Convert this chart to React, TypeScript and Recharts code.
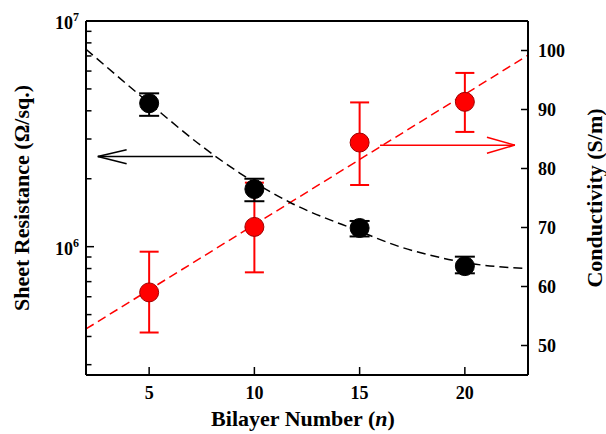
import {
  ComposedChart,
  Line,
  Scatter,
  ErrorBar,
  XAxis,
  YAxis,
  ReferenceLine,
} from "recharts";

// measured points
const bilayers = [5, 10, 15, 20];
const sheetResistance = [4.32e6, 1.8e6, 1.21e6, 8.2e5];
const sheetResErrLow = [5.2e5, 2.1e5, 1.0e5, 5.8e4];
const sheetResErrHigh = [4.6e5, 2.0e5, 0.9e5, 8.3e4];
const conductivity = [59, 70.1, 84.4, 91.3];
const condErrLow = [6.8, 7.7, 7.2, 5.1];
const condErrHigh = [6.9, 7.5, 6.8, 4.9];

// fitted curves
const resFitN = [2, 5, 7.5, 9.3, 11.7, 15, 16.9, 18.3, 20, 23];
const resFitValues = [7.5e6, 4.33e6, 2.79e6, 2.12e6, 1.57e6, 1.17e6, 1.0e6, 9.2e5, 8.5e5, 8.0e5];
const condFitN = [2, 23];
const condFitValues = [52.8, 99.2];

// arrows: shaft start, tip, and the two head arms
const blackArrowN = [8.03, 2.56, 3.93];
const blackArrowY = [2.51e6, 2.69e6, 2.33e6];
const redArrowN = [15.97, 22.38, 21.05];
const redArrowY = [83.96, 85.3, 82.6];

const xTicks = [5, 10, 15, 20];
const rightTicks = [50, 60, 70, 80, 90, 100];
const leftTicks = [
  3e5, 4e5, 5e5, 6e5, 7e5, 8e5, 9e5, 1e6,
  2e6, 3e6, 4e6, 5e6, 6e6, 7e6, 8e6, 9e6, 1e7,
];
const leftMajor = [1e6, 1e7];

const resData = bilayers.map((n, i) => ({
  x: n,
  y: sheetResistance[i],
  err: [sheetResErrLow[i], sheetResErrHigh[i]],
}));
const condData = bilayers.map((n, i) => ({
  x: n,
  y: conductivity[i],
  err: [condErrLow[i], condErrHigh[i]],
}));
const resFit = resFitN.map((n, i) => ({ x: n, y: resFitValues[i] }));
const condFit = condFitN.map((n, i) => ({ x: n, y: condFitValues[i] }));

const FONT = '"Liberation Serif", "Times New Roman", serif';

const LeftTick = (props: any) => {
  const { x, y, payload } = props;
  const v = payload.value;
  const major = leftMajor.includes(v);
  return (
    <g>
      <line x1={x} x2={x + (major ? 8 : 5.5)} y1={y} y2={y} stroke="#000" strokeWidth={1.5} />
      {major && (
        <text x={x - 7} y={y + 8} textAnchor="end" fontFamily={FONT} fontWeight="bold" fontSize={18} fill="#000">
          10
          <tspan dy={-8} fontSize={12}>{Math.round(Math.log10(v))}</tspan>
        </text>
      )}
    </g>
  );
};

const RightTick = (props: any) => {
  const { x, y, payload } = props;
  return (
    <g>
      <line x1={x} x2={x - 7} y1={y} y2={y} stroke="#000" strokeWidth={1.5} />
      <text x={x + 10} y={y + 6} textAnchor="start" fontFamily={FONT} fontWeight="bold" fontSize={18} fill="#000">
        {payload.value}
      </text>
    </g>
  );
};

const BottomTick = (props: any) => {
  const { x, y, payload } = props;
  return (
    <g>
      <line x1={x} x2={x} y1={y} y2={y - 8} stroke="#000" strokeWidth={1.5} />
      <text x={x} y={y + 24} textAnchor="middle" fontFamily={FONT} fontWeight="bold" fontSize={18} fill="#000">
        {payload.value}
      </text>
    </g>
  );
};

const Dot = ({ cx, cy, fill, stroke }: any) => (
  <circle cx={cx} cy={cy} r={9.5} fill={fill} stroke={stroke} strokeWidth={1} />
);

export default function App() {
  return (
    <div style={{ position: "absolute", left: 0, top: 0, width: 606, height: 434, background: "#fff" }}>
      <ComposedChart width={606} height={434} margin={{ top: 21, right: 0, bottom: 0, left: 0 }}>
        <XAxis
          dataKey="x"
          type="number"
          domain={[2, 23]}
          ticks={xTicks}
          interval={0}
          allowDataOverflow
          height={59}
          tickSize={0}
          tickMargin={0}
          tickLine={false}
          tick={<BottomTick />}
          axisLine={{ stroke: "#000", strokeWidth: 2 }}
          label={(p: any) => {
            const vb = p.viewBox;
            return (
              <text x={vb.x + vb.width / 2 - 4} y={vb.y + 51} textAnchor="middle" fontFamily={FONT} fontWeight="bold" fontSize={22} fill="#000">
                Bilayer Number (<tspan fontStyle="italic">n</tspan>)
              </text>
            );
          }}
        />
        <YAxis
          yAxisId="left"
          type="number"
          scale="log"
          domain={[2.7e5, 1e7]}
          ticks={leftTicks}
          interval={0}
          allowDataOverflow
          width={86}
          tickSize={0}
          tickMargin={0}
          tickLine={false}
          tick={<LeftTick />}
          axisLine={{ stroke: "#000", strokeWidth: 2 }}
          label={(p: any) => {
            const vb = p.viewBox;
            const cx = 21;
            const cy = vb.y + vb.height / 2;
            return (
              <text x={cx} y={cy} transform={`rotate(-90, ${cx}, ${cy})`} textAnchor="middle" dominantBaseline="central" fontFamily={FONT} fontWeight="bold" fontSize={22} fill="#000">
                Sheet Resistance (Ω/sq.)
              </text>
            );
          }}
        />
        <YAxis
          yAxisId="right"
          orientation="right"
          type="number"
          domain={[45, 105]}
          ticks={rightTicks}
          interval={0}
          allowDataOverflow
          width={78}
          tickSize={0}
          tickMargin={0}
          tickLine={false}
          tick={<RightTick />}
          axisLine={{ stroke: "#000", strokeWidth: 2 }}
          label={(p: any) => {
            const vb = p.viewBox;
            const cx = 594;
            const cy = vb.y + vb.height / 2;
            return (
              <text x={cx} y={cy} transform={`rotate(-90, ${cx}, ${cy})`} textAnchor="middle" dominantBaseline="central" fontFamily={FONT} fontWeight="bold" fontSize={22} fill="#000">
                Conductivity (S/m)
              </text>
            );
          }}
        />
        <ReferenceLine yAxisId="right" y={105} stroke="#000" strokeWidth={2} ifOverflow="visible" />

        <Line
          data={condFit}
          dataKey="y"
          yAxisId="right"
          type="linear"
          stroke="#ff0000"
          strokeWidth={1.5}
          strokeDasharray="9 5"
          dot={false}
          isAnimationActive={false}
        />
        <Line
          data={resFit}
          dataKey="y"
          yAxisId="left"
          type="monotone"
          stroke="#000"
          strokeWidth={1.5}
          strokeDasharray="9 5"
          dot={false}
          isAnimationActive={false}
        />

        {/* arrows */}
        <ReferenceLine yAxisId="left" segment={[{ x: blackArrowN[0], y: blackArrowY[0] }, { x: blackArrowN[1], y: blackArrowY[0] }]} stroke="#000" strokeWidth={1.5} />
        <ReferenceLine yAxisId="left" segment={[{ x: blackArrowN[1], y: blackArrowY[0] }, { x: blackArrowN[2], y: blackArrowY[1] }]} stroke="#000" strokeWidth={1.5} />
        <ReferenceLine yAxisId="left" segment={[{ x: blackArrowN[1], y: blackArrowY[0] }, { x: blackArrowN[2], y: blackArrowY[2] }]} stroke="#000" strokeWidth={1.5} />
        <ReferenceLine yAxisId="right" segment={[{ x: redArrowN[0], y: redArrowY[0] }, { x: redArrowN[1], y: redArrowY[0] }]} stroke="#ff0000" strokeWidth={1.5} />
        <ReferenceLine yAxisId="right" segment={[{ x: redArrowN[1], y: redArrowY[0] }, { x: redArrowN[2], y: redArrowY[1] }]} stroke="#ff0000" strokeWidth={1.5} />
        <ReferenceLine yAxisId="right" segment={[{ x: redArrowN[1], y: redArrowY[0] }, { x: redArrowN[2], y: redArrowY[2] }]} stroke="#ff0000" strokeWidth={1.5} />

        <Scatter
          data={condData}
          dataKey="y"
          yAxisId="right"
          fill="#ff0000"
          stroke="#a00000"
          shape={<Dot />}
          isAnimationActive={false}
        >
          <ErrorBar dataKey="err" direction="y" width={9.5} stroke="#ff0000" strokeWidth={2} isAnimationActive={false} />
        </Scatter>
        <Scatter
          data={resData}
          dataKey="y"
          yAxisId="left"
          fill="#000"
          stroke="#000"
          shape={<Dot />}
          isAnimationActive={false}
        >
          <ErrorBar dataKey="err" direction="y" width={10} stroke="#000" strokeWidth={2} isAnimationActive={false} />
        </Scatter>
      </ComposedChart>
    </div>
  );
}
